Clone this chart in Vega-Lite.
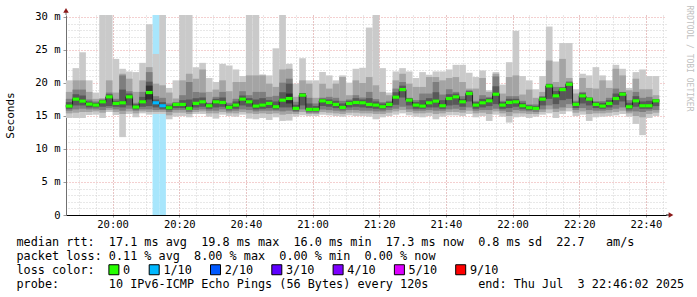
{
  "$schema": "https://vega.github.io/schema/vega-lite/v6.json",
  "width": 600,
  "height": 200,
  "autosize": {"type": "none"},
  "padding": {"left": 66, "top": 15, "right": 31, "bottom": 82},
  "background": "white",
  "config": {"view": {"stroke": null}},
  "resolve": {"axis": {"x": "independent", "y": "independent"}},
  "data": {"values": [
    {"t":"2025-07-03T19:46","p1":14.7,"p2":15.4,"p3":15.8,"p4":16.1,"p5":16.3,"p6":16.7,"p7":17.1,"p8":17.6,"p9":18.65,"p10":20.4,"med":16.5,"loss":"0"},
    {"t":"2025-07-03T19:48","p1":14.7,"p2":15.5,"p3":16.0,"p4":16.6,"p5":17.35,"p6":17.75,"p7":18.3,"p8":19.0,"p9":20.4,"p10":22.25,"med":17.55,"loss":"0"},
    {"t":"2025-07-03T19:50","p1":14.7,"p2":15.6,"p3":16.1,"p4":16.6,"p5":17.05,"p6":17.45,"p7":18.1,"p8":19.0,"p9":20.4,"p10":24.65,"med":17.25,"loss":"0"},
    {"t":"2025-07-03T19:52","p1":15.15,"p2":15.6,"p3":16.0,"p4":16.3,"p5":16.6,"p6":17.0,"p7":17.2,"p8":17.5,"p9":18.65,"p10":20.4,"med":16.8,"loss":"0"},
    {"t":"2025-07-03T19:54","p1":15.2,"p2":15.7,"p3":16.0,"p4":16.3,"p5":16.45,"p6":16.85,"p7":17.0,"p8":17.2,"p9":17.6,"p10":18.55,"med":16.65,"loss":"0"},
    {"t":"2025-07-03T19:56","p1":14.7,"p2":15.5,"p3":15.9,"p4":16.4,"p5":16.95,"p6":17.35,"p7":17.45,"p8":17.5,"p9":17.7,"p10":30.3,"med":17.15,"loss":"0"},
    {"t":"2025-07-03T19:58","p1":15.6,"p2":15.9,"p3":16.2,"p4":16.5,"p5":17.7,"p6":18.1,"p7":18.3,"p8":18.55,"p9":20.4,"p10":30.3,"med":17.9,"loss":"0"},
    {"t":"2025-07-03T20:00","p1":15.15,"p2":15.6,"p3":16.0,"p4":16.4,"p5":16.7,"p6":17.1,"p7":17.3,"p8":17.6,"p9":18.55,"p10":23.65,"med":16.9,"loss":"0"},
    {"t":"2025-07-03T20:02","p1":11.8,"p2":15.3,"p3":15.8,"p4":16.3,"p5":16.8,"p6":17.2,"p7":19.0,"p8":21.15,"p9":21.4,"p10":22.15,"med":17.0,"loss":"0"},
    {"t":"2025-07-03T20:04","p1":15.3,"p2":15.7,"p3":16.1,"p4":16.6,"p5":17.7,"p6":18.1,"p7":18.4,"p8":18.75,"p9":20.65,"p10":21.75,"med":17.9,"loss":"0"},
    {"t":"2025-07-03T20:06","p1":14.8,"p2":15.4,"p3":15.8,"p4":16.0,"p5":16.15,"p6":16.55,"p7":16.8,"p8":17.0,"p9":18.65,"p10":21.65,"med":16.35,"loss":"0"},
    {"t":"2025-07-03T20:08","p1":15.4,"p2":15.7,"p3":16.0,"p4":16.4,"p5":16.95,"p6":17.35,"p7":17.9,"p8":18.65,"p9":20.4,"p10":23.05,"med":17.15,"loss":"0"},
    {"t":"2025-07-03T20:10","p1":15.2,"p2":15.6,"p3":16.0,"p4":16.5,"p5":17.5,"p6":19.6,"p7":20.2,"p8":21.65,"p9":22.4,"p10":28.9,"med":18.55,"loss":"0"},
    {"t":"2025-07-03T20:12","p1":15.3,"p2":15.6,"p3":15.9,"p4":16.3,"p5":16.8,"p6":17.2,"p7":17.5,"p8":18.0,"p9":19.9,"p10":24.4,"med":17.0,"loss":"1/10"},
    {"t":"2025-07-03T20:14","p1":15.3,"p2":15.6,"p3":15.9,"p4":16.1,"p5":16.35,"p6":16.75,"p7":17.1,"p8":17.75,"p9":19.65,"p10":30.3,"med":16.55,"loss":"1/10"},
    {"t":"2025-07-03T20:16","p1":14.5,"p2":15.1,"p3":15.6,"p4":15.9,"p5":16.05,"p6":16.45,"p7":16.6,"p8":16.9,"p9":18.55,"p10":19.25,"med":16.25,"loss":"0"},
    {"t":"2025-07-03T20:18","p1":14.9,"p2":15.5,"p3":15.9,"p4":16.2,"p5":16.55,"p6":16.95,"p7":17.0,"p8":17.1,"p9":17.65,"p10":20.4,"med":16.75,"loss":"0"},
    {"t":"2025-07-03T20:20","p1":15.0,"p2":15.5,"p3":15.9,"p4":16.2,"p5":16.55,"p6":16.95,"p7":17.4,"p8":18.15,"p9":20.4,"p10":30.3,"med":16.75,"loss":"0"},
    {"t":"2025-07-03T20:22","p1":14.8,"p2":15.3,"p3":15.6,"p4":15.9,"p5":15.95,"p6":16.35,"p7":17.5,"p8":20.15,"p9":21.4,"p10":30.3,"med":16.15,"loss":"0"},
    {"t":"2025-07-03T20:24","p1":15.3,"p2":15.6,"p3":15.9,"p4":16.3,"p5":16.7,"p6":17.1,"p7":17.7,"p8":18.65,"p9":20.65,"p10":22.4,"med":16.9,"loss":"0"},
    {"t":"2025-07-03T20:26","p1":15.3,"p2":15.7,"p3":16.0,"p4":16.4,"p5":16.95,"p6":17.35,"p7":17.8,"p8":18.55,"p9":22.05,"p10":23.05,"med":17.15,"loss":"0"},
    {"t":"2025-07-03T20:28","p1":14.9,"p2":15.4,"p3":15.8,"p4":16.1,"p5":16.35,"p6":16.75,"p7":16.9,"p8":17.0,"p9":18.65,"p10":20.75,"med":16.55,"loss":"0"},
    {"t":"2025-07-03T20:30","p1":14.6,"p2":15.4,"p3":15.8,"p4":16.3,"p5":16.95,"p6":17.35,"p7":17.6,"p8":17.9,"p9":19.0,"p10":20.15,"med":17.15,"loss":"0"},
    {"t":"2025-07-03T20:32","p1":15.2,"p2":15.6,"p3":16.0,"p4":16.4,"p5":16.85,"p6":17.25,"p7":17.8,"p8":18.65,"p9":20.4,"p10":22.9,"med":17.05,"loss":"0"},
    {"t":"2025-07-03T20:34","p1":15.0,"p2":15.4,"p3":15.7,"p4":16.0,"p5":16.1,"p6":16.5,"p7":16.7,"p8":17.0,"p9":18.75,"p10":22.65,"med":16.3,"loss":"0"},
    {"t":"2025-07-03T20:36","p1":14.9,"p2":15.4,"p3":15.8,"p4":16.1,"p5":16.45,"p6":16.85,"p7":17.2,"p8":17.6,"p9":20.15,"p10":22.05,"med":16.65,"loss":"0"},
    {"t":"2025-07-03T20:38","p1":15.2,"p2":15.6,"p3":16.0,"p4":16.6,"p5":17.35,"p6":17.75,"p7":18.1,"p8":18.75,"p9":20.15,"p10":21.05,"med":17.55,"loss":"0"},
    {"t":"2025-07-03T20:40","p1":14.6,"p2":15.4,"p3":15.9,"p4":16.4,"p5":16.95,"p6":17.35,"p7":17.7,"p8":18.15,"p9":21.15,"p10":30.3,"med":17.15,"loss":"0"},
    {"t":"2025-07-03T20:42","p1":14.5,"p2":15.3,"p3":15.7,"p4":16.0,"p5":16.3,"p6":16.7,"p7":17.5,"p8":18.65,"p9":21.15,"p10":30.3,"med":16.5,"loss":"0"},
    {"t":"2025-07-03T20:44","p1":14.7,"p2":15.4,"p3":15.8,"p4":16.1,"p5":16.45,"p6":16.85,"p7":17.7,"p8":18.65,"p9":21.15,"p10":21.3,"med":16.65,"loss":"0"},
    {"t":"2025-07-03T20:46","p1":14.4,"p2":15.3,"p3":15.8,"p4":16.2,"p5":16.7,"p6":17.1,"p7":17.4,"p8":17.9,"p9":19.9,"p10":21.15,"med":16.9,"loss":"0"},
    {"t":"2025-07-03T20:48","p1":14.8,"p2":15.4,"p3":15.8,"p4":16.0,"p5":16.2,"p6":16.6,"p7":17.2,"p8":18.05,"p9":19.4,"p10":25.25,"med":16.4,"loss":"0"},
    {"t":"2025-07-03T20:50","p1":14.25,"p2":15.2,"p3":15.7,"p4":16.3,"p5":17.2,"p6":17.6,"p7":18.6,"p8":20.05,"p9":22.05,"p10":30.3,"med":17.4,"loss":"0"},
    {"t":"2025-07-03T20:52","p1":14.3,"p2":15.3,"p3":15.8,"p4":16.3,"p5":16.9,"p6":18.4,"p7":19.9,"p8":20.65,"p9":22.15,"p10":22.9,"med":17.65,"loss":"0"},
    {"t":"2025-07-03T20:54","p1":14.9,"p2":15.3,"p3":15.6,"p4":15.8,"p5":15.95,"p6":16.35,"p7":16.7,"p8":17.15,"p9":17.9,"p10":19.9,"med":16.15,"loss":"0"},
    {"t":"2025-07-03T20:56","p1":15.1,"p2":15.6,"p3":16.0,"p4":16.6,"p5":17.9,"p6":18.4,"p7":18.4,"p8":18.45,"p9":20.4,"p10":23.75,"med":18.15,"loss":"0"},
    {"t":"2025-07-03T20:58","p1":15.0,"p2":15.3,"p3":15.5,"p4":15.7,"p5":15.8,"p6":16.2,"p7":16.9,"p8":17.75,"p9":19.9,"p10":20.4,"med":16.0,"loss":"0"},
    {"t":"2025-07-03T21:00","p1":15.0,"p2":15.3,"p3":15.5,"p4":15.7,"p5":15.8,"p6":16.2,"p7":16.5,"p8":16.9,"p9":17.75,"p10":20.4,"med":16.0,"loss":"0"},
    {"t":"2025-07-03T21:02","p1":15.2,"p2":15.6,"p3":16.0,"p4":16.5,"p5":17.1,"p6":17.5,"p7":17.6,"p8":17.75,"p9":19.9,"p10":21.65,"med":17.3,"loss":"0"},
    {"t":"2025-07-03T21:04","p1":15.1,"p2":15.5,"p3":15.9,"p4":16.4,"p5":16.85,"p6":17.25,"p7":17.5,"p8":17.9,"p9":19.15,"p10":21.15,"med":17.05,"loss":"0"},
    {"t":"2025-07-03T21:06","p1":15.0,"p2":15.4,"p3":15.8,"p4":16.2,"p5":16.55,"p6":16.95,"p7":17.3,"p8":17.75,"p9":19.9,"p10":20.4,"med":16.75,"loss":"0"},
    {"t":"2025-07-03T21:08","p1":14.9,"p2":15.3,"p3":15.7,"p4":16.0,"p5":16.1,"p6":16.5,"p7":16.9,"p8":17.3,"p9":20.9,"p10":21.15,"med":16.3,"loss":"0"},
    {"t":"2025-07-03T21:10","p1":15.1,"p2":15.5,"p3":15.9,"p4":16.3,"p5":16.7,"p6":17.1,"p7":17.3,"p8":17.5,"p9":18.15,"p10":20.05,"med":16.9,"loss":"0"},
    {"t":"2025-07-03T21:12","p1":15.0,"p2":15.5,"p3":15.9,"p4":16.4,"p5":16.85,"p6":17.25,"p7":17.7,"p8":18.15,"p9":20.4,"p10":22.15,"med":17.05,"loss":"0"},
    {"t":"2025-07-03T21:14","p1":15.0,"p2":15.4,"p3":15.8,"p4":16.3,"p5":16.8,"p6":17.2,"p7":17.5,"p8":17.8,"p9":20.0,"p10":22.3,"med":17.0,"loss":"0"},
    {"t":"2025-07-03T21:16","p1":14.9,"p2":15.4,"p3":15.8,"p4":16.2,"p5":16.55,"p6":16.95,"p7":17.7,"p8":18.65,"p9":20.9,"p10":28.4,"med":16.75,"loss":"0"},
    {"t":"2025-07-03T21:18","p1":14.5,"p2":15.3,"p3":15.7,"p4":16.1,"p5":16.45,"p6":16.85,"p7":17.2,"p8":17.55,"p9":19.65,"p10":30.3,"med":16.65,"loss":"0"},
    {"t":"2025-07-03T21:20","p1":14.8,"p2":15.3,"p3":15.7,"p4":16.0,"p5":16.2,"p6":16.6,"p7":16.9,"p8":17.1,"p9":18.65,"p10":22.25,"med":16.4,"loss":"0"},
    {"t":"2025-07-03T21:22","p1":15.0,"p2":15.5,"p3":15.9,"p4":16.3,"p5":16.55,"p6":16.95,"p7":17.1,"p8":17.3,"p9":18.15,"p10":18.55,"med":16.75,"loss":"0"},
    {"t":"2025-07-03T21:24","p1":15.2,"p2":15.7,"p3":16.1,"p4":16.7,"p5":17.65,"p6":18.05,"p7":18.6,"p8":19.15,"p9":20.4,"p10":21.75,"med":17.85,"loss":"0"},
    {"t":"2025-07-03T21:26","p1":15.4,"p2":15.9,"p3":16.4,"p4":17.8,"p5":18.8,"p6":19.2,"p7":19.6,"p8":20.15,"p9":21.4,"p10":22.25,"med":19.0,"loss":"0"},
    {"t":"2025-07-03T21:28","p1":15.1,"p2":15.6,"p3":16.0,"p4":16.6,"p5":17.2,"p6":17.6,"p7":17.7,"p8":17.75,"p9":19.9,"p10":21.75,"med":17.4,"loss":"0"},
    {"t":"2025-07-03T21:30","p1":14.9,"p2":15.4,"p3":15.8,"p4":16.1,"p5":16.45,"p6":16.85,"p7":17.1,"p8":17.4,"p9":19.4,"p10":20.75,"med":16.65,"loss":"0"},
    {"t":"2025-07-03T21:32","p1":14.8,"p2":15.4,"p3":15.8,"p4":16.1,"p5":16.3,"p6":16.7,"p7":17.4,"p8":18.4,"p9":19.4,"p10":21.65,"med":16.5,"loss":"0"},
    {"t":"2025-07-03T21:34","p1":15.0,"p2":15.5,"p3":15.9,"p4":16.3,"p5":16.8,"p6":17.2,"p7":17.7,"p8":18.4,"p9":20.9,"p10":21.25,"med":17.0,"loss":"0"},
    {"t":"2025-07-03T21:36","p1":14.5,"p2":15.3,"p3":15.8,"p4":16.3,"p5":17.05,"p6":17.45,"p7":18.6,"p8":20.15,"p9":20.9,"p10":21.75,"med":17.25,"loss":"0"},
    {"t":"2025-07-03T21:38","p1":14.9,"p2":15.4,"p3":15.8,"p4":16.1,"p5":16.35,"p6":16.75,"p7":17.4,"p8":18.25,"p9":20.4,"p10":21.75,"med":16.55,"loss":"0"},
    {"t":"2025-07-03T21:40","p1":15.1,"p2":15.6,"p3":16.0,"p4":16.6,"p5":17.45,"p6":17.85,"p7":18.3,"p8":19.05,"p9":20.75,"p10":22.05,"med":17.65,"loss":"0"},
    {"t":"2025-07-03T21:42","p1":15.1,"p2":15.6,"p3":16.1,"p4":16.7,"p5":17.7,"p6":18.1,"p7":18.4,"p8":18.65,"p9":20.9,"p10":22.75,"med":17.9,"loss":"0"},
    {"t":"2025-07-03T21:44","p1":15.0,"p2":15.5,"p3":15.9,"p4":16.4,"p5":16.95,"p6":17.35,"p7":17.6,"p8":18.0,"p9":20.15,"p10":22.75,"med":17.15,"loss":"0"},
    {"t":"2025-07-03T21:46","p1":15.3,"p2":15.8,"p3":16.3,"p4":17.2,"p5":18.2,"p6":18.6,"p7":18.75,"p8":18.9,"p9":19.15,"p10":21.55,"med":18.4,"loss":"0"},
    {"t":"2025-07-03T21:48","p1":14.8,"p2":15.4,"p3":15.8,"p4":16.1,"p5":16.45,"p6":16.85,"p7":17.1,"p8":17.3,"p9":19.15,"p10":20.9,"med":16.65,"loss":"0"},
    {"t":"2025-07-03T21:50","p1":15.0,"p2":15.5,"p3":15.9,"p4":16.3,"p5":16.8,"p6":17.2,"p7":17.6,"p8":18.15,"p9":20.75,"p10":21.9,"med":17.0,"loss":"0"},
    {"t":"2025-07-03T21:52","p1":14.25,"p2":15.3,"p3":15.9,"p4":16.5,"p5":17.1,"p6":17.5,"p7":17.7,"p8":17.9,"p9":18.65,"p10":18.9,"med":17.3,"loss":"0"},
    {"t":"2025-07-03T21:54","p1":15.2,"p2":15.7,"p3":16.1,"p4":16.8,"p5":18.1,"p6":18.5,"p7":19.5,"p8":21.0,"p9":21.4,"p10":21.65,"med":18.3,"loss":"0"},
    {"t":"2025-07-03T21:56","p1":14.9,"p2":15.4,"p3":15.8,"p4":16.1,"p5":16.45,"p6":16.85,"p7":17.1,"p8":17.3,"p9":18.4,"p10":19.75,"med":16.65,"loss":"0"},
    {"t":"2025-07-03T21:58","p1":14.0,"p2":15.0,"p3":15.6,"p4":16.2,"p5":16.85,"p6":17.25,"p7":17.6,"p8":18.0,"p9":20.9,"p10":23.15,"med":17.05,"loss":"0"},
    {"t":"2025-07-03T22:00","p1":14.8,"p2":15.4,"p3":15.9,"p4":16.4,"p5":16.95,"p6":17.35,"p7":17.6,"p8":18.0,"p9":21.15,"p10":27.9,"med":17.15,"loss":"0"},
    {"t":"2025-07-03T22:02","p1":14.9,"p2":15.4,"p3":15.8,"p4":16.1,"p5":16.35,"p6":16.75,"p7":17.0,"p8":17.3,"p9":18.25,"p10":21.05,"med":16.55,"loss":"0"},
    {"t":"2025-07-03T22:04","p1":14.7,"p2":15.3,"p3":15.7,"p4":15.9,"p5":16.05,"p6":16.45,"p7":16.6,"p8":16.75,"p9":19.0,"p10":20.4,"med":16.25,"loss":"0"},
    {"t":"2025-07-03T22:06","p1":14.9,"p2":15.3,"p3":15.6,"p4":15.9,"p5":15.95,"p6":16.35,"p7":16.5,"p8":16.75,"p9":17.75,"p10":19.05,"med":16.15,"loss":"0"},
    {"t":"2025-07-03T22:08","p1":15.2,"p2":15.6,"p3":16.0,"p4":16.6,"p5":17.35,"p6":17.75,"p7":17.9,"p8":18.0,"p9":18.65,"p10":21.05,"med":17.55,"loss":"0"},
    {"t":"2025-07-03T22:10","p1":15.4,"p2":16.0,"p3":16.6,"p4":17.6,"p5":19.35,"p6":19.75,"p7":19.8,"p8":19.9,"p9":23.4,"p10":28.55,"med":19.55,"loss":"0"},
    {"t":"2025-07-03T22:12","p1":14.7,"p2":15.6,"p3":16.1,"p4":16.8,"p5":17.85,"p6":18.25,"p7":18.8,"p8":19.4,"p9":20.15,"p10":23.25,"med":18.05,"loss":"0"},
    {"t":"2025-07-03T22:14","p1":15.3,"p2":15.8,"p3":16.3,"p4":17.4,"p5":18.8,"p6":19.2,"p7":19.3,"p8":19.4,"p9":23.65,"p10":26.05,"med":19.0,"loss":"0"},
    {"t":"2025-07-03T22:16","p1":15.7,"p2":16.2,"p3":16.8,"p4":17.6,"p5":19.6,"p6":20.0,"p7":20.1,"p8":20.25,"p9":20.75,"p10":26.05,"med":19.8,"loss":"0"},
    {"t":"2025-07-03T22:18","p1":15.0,"p2":15.5,"p3":15.9,"p4":16.2,"p5":16.55,"p6":16.95,"p7":17.1,"p8":17.3,"p9":18.4,"p10":19.05,"med":16.75,"loss":"0"},
    {"t":"2025-07-03T22:20","p1":15.2,"p2":15.7,"p3":16.2,"p4":16.9,"p5":17.85,"p6":18.25,"p7":18.45,"p8":18.65,"p9":20.75,"p10":21.4,"med":18.05,"loss":"0"},
    {"t":"2025-07-03T22:22","p1":14.25,"p2":15.3,"p3":15.9,"p4":16.6,"p5":17.35,"p6":17.75,"p7":17.75,"p8":17.8,"p9":19.25,"p10":21.15,"med":17.55,"loss":"0"},
    {"t":"2025-07-03T22:24","p1":14.8,"p2":15.4,"p3":15.8,"p4":16.2,"p5":16.55,"p6":16.95,"p7":17.1,"p8":17.25,"p9":19.15,"p10":22.4,"med":16.75,"loss":"0"},
    {"t":"2025-07-03T22:26","p1":14.9,"p2":15.4,"p3":15.8,"p4":16.1,"p5":16.3,"p6":16.7,"p7":17.0,"p8":17.25,"p9":20.4,"p10":21.15,"med":16.5,"loss":"0"},
    {"t":"2025-07-03T22:28","p1":15.0,"p2":15.5,"p3":15.9,"p4":16.3,"p5":16.7,"p6":17.1,"p7":17.4,"p8":17.75,"p9":19.25,"p10":20.4,"med":16.9,"loss":"0"},
    {"t":"2025-07-03T22:30","p1":15.1,"p2":15.6,"p3":16.1,"p4":16.7,"p5":17.45,"p6":17.85,"p7":18.4,"p8":19.15,"p9":22.15,"p10":22.75,"med":17.65,"loss":"0"},
    {"t":"2025-07-03T22:32","p1":15.3,"p2":15.8,"p3":16.3,"p4":17.2,"p5":18.1,"p6":18.5,"p7":18.6,"p8":18.65,"p9":21.15,"p10":22.15,"med":18.3,"loss":"0"},
    {"t":"2025-07-03T22:34","p1":14.9,"p2":15.4,"p3":15.7,"p4":16.0,"p5":16.2,"p6":16.6,"p7":17.0,"p8":17.4,"p9":18.9,"p10":19.25,"med":16.4,"loss":"0"},
    {"t":"2025-07-03T22:36","p1":13.8,"p2":15.0,"p3":15.7,"p4":16.4,"p5":17.1,"p6":17.5,"p7":18.0,"p8":18.65,"p9":20.65,"p10":21.65,"med":17.3,"loss":"0"},
    {"t":"2025-07-03T22:38","p1":12.1,"p2":14.8,"p3":15.6,"p4":16.1,"p5":16.35,"p6":16.75,"p7":17.2,"p8":17.75,"p9":19.05,"p10":22.05,"med":16.55,"loss":"0"},
    {"t":"2025-07-03T22:40","p1":14.7,"p2":15.3,"p3":15.8,"p4":16.1,"p5":16.35,"p6":16.75,"p7":17.3,"p8":17.9,"p9":19.05,"p10":21.05,"med":16.55,"loss":"0"},
    {"t":"2025-07-03T22:42","p1":15.0,"p2":15.5,"p3":15.9,"p4":16.5,"p5":17.1,"p6":17.5,"p7":17.5,"p8":17.55,"p9":18.15,"p10":21.05,"med":17.3,"loss":"0"}
  ]},
  "transform": [{"timeUnit": {"unit": "yearmonthdatehoursminutes", "step": 2}, "field": "t", "as": "t0"}],
  "layer": [
    {
      "transform": [{"filter": "datum.loss !== '0'"}],
      "mark": {"type": "rect", "fill": "#a8e6fc"},
      "encoding": {
        "x": {"field": "t0", "type": "temporal",
          "axis": {"orient": "top", "tickCount": 36, "grid": true, "gridColor": "#d0d0d0", "gridDash": [1, 2], "gridWidth": 1,
                   "labels": false, "ticks": false, "domain": false, "title": null}},
        "x2": {"field": "t0_end"}
      }
    },
    {
      "mark": {"type": "rect", "fill": "#cacaca"},
      "encoding": {
        "x": {"field": "t0", "type": "temporal",
          "scale": {"domain": [{"year": 2025, "month": 7, "date": 3, "hours": 19, "minutes": 46, "seconds": 2}, {"year": 2025, "month": 7, "date": 3, "hours": 22, "minutes": 46, "seconds": 2}], "nice": false},
          "axis": {
            "orient": "bottom",
            "values": [
              {"year": 2025, "month": 7, "date": 3, "hours": 20, "minutes": 0},
              {"year": 2025, "month": 7, "date": 3, "hours": 20, "minutes": 20},
              {"year": 2025, "month": 7, "date": 3, "hours": 20, "minutes": 40},
              {"year": 2025, "month": 7, "date": 3, "hours": 21, "minutes": 0},
              {"year": 2025, "month": 7, "date": 3, "hours": 21, "minutes": 20},
              {"year": 2025, "month": 7, "date": 3, "hours": 21, "minutes": 40},
              {"year": 2025, "month": 7, "date": 3, "hours": 22, "minutes": 0},
              {"year": 2025, "month": 7, "date": 3, "hours": 22, "minutes": 20},
              {"year": 2025, "month": 7, "date": 3, "hours": 22, "minutes": 40}
            ],
            "format": "%H:%M",
            "labelOverlap": false, "labelFlush": false, "labelAngle": 0,
            "labelFont": "DejaVu Sans Mono", "labelFontSize": 10.5, "labelColor": "#000000", "labelPadding": 2,
            "grid": true, "gridColor": "#e8a0a0", "gridDash": [1, 2], "gridWidth": 1,
            "tickSize": 2, "tickColor": "#999999",
            "domainColor": "#000000",
            "title": [
              "median rtt:\u00a0 17.1 ms avg\u00a0 19.8 ms max\u00a0 16.0 ms min\u00a0 17.3 ms now\u00a0 0.8 ms sd\u00a0 22.7\u00a0\u00a0 am/s",
              "packet loss: 0.11 % avg\u00a0 8.00 % max\u00a0 0.00 % min\u00a0 0.00 % now",
              "loss color:",
              "probe:\u00a0\u00a0\u00a0\u00a0\u00a0\u00a0 10 IPv6-ICMP Echo Pings (56 Bytes) every 120s\u00a0\u00a0\u00a0\u00a0\u00a0\u00a0 end: Thu Jul\u00a0 3 22:46:02 2025"
            ],
            "titleFont": "DejaVu Sans Mono", "titleFontSize": 11.8, "titleFontWeight": "normal", "titleColor": "#000000",
            "titleX": -50, "titleY": 30.5, "titleAlign": "left", "titleAnchor": "start", "titleBaseline": "alphabetic",
            "titleLineHeight": 14, "titleLimit": 2000
          }
        },
        "x2": {"field": "t0_end"},
        "y": {"field": "p1", "type": "quantitative",
          "scale": {"domain": [0, 30.3], "nice": false, "zero": true},
          "axis": {
            "orient": "left",
            "values": [0, 5, 10, 15, 20, 25, 30],
            "labelExpr": "datum.value === 0 ? '0' : datum.label + ' m'",
            "labelOverlap": false, "labelFlush": false,
            "labelFont": "DejaVu Sans Mono", "labelFontSize": 10.5, "labelColor": "#000000", "labelPadding": 3,
            "grid": true, "gridColor": "#e8a0a0", "gridDash": [1, 2], "gridWidth": 1,
            "tickSize": 3, "tickColor": "#999999",
            "domainColor": "#707070",
            "title": "Seconds",
            "titleFont": "DejaVu Sans Mono", "titleFontSize": 11, "titleFontWeight": "normal", "titleColor": "#000000",
            "titleX": -56, "titleY": 100, "titleAngle": -90, "titleAlign": "center", "titleBaseline": "middle"
          }
        },
        "y2": {"field": "p10"}
      }
    },
    {
      "mark": {"type": "rect", "fill": "#a4a4a4"},
      "encoding": {
        "x": {"field": "t0", "type": "temporal", "axis": null}, "x2": {"field": "t0_end"},
        "y": {"field": "p2", "type": "quantitative",
          "axis": {
            "orient": "right",
            "values": [1,2,3,4,6,7,8,9,11,12,13,14,16,17,18,19,21,22,23,24,26,27,28,29],
            "grid": true, "gridColor": "#d0d0d0", "gridDash": [1, 2], "gridWidth": 1,
            "labels": false, "ticks": false, "domain": false,
            "title": "RRDTOOL / TOBI OETIKER",
            "titleFont": "DejaVu Sans Mono", "titleFontSize": 8, "titleFontWeight": "normal", "titleColor": "#c0c0c0",
            "titleAngle": 90, "titleX": 22, "titleY": -10, "titleAlign": "left", "titleBaseline": "middle"
          }
        },
        "y2": {"field": "p9"}
      }
    },
    {
      "mark": {"type": "rect", "fill": "#7e7e7e"},
      "encoding": {
        "x": {"field": "t0", "type": "temporal", "axis": null}, "x2": {"field": "t0_end"},
        "y": {"field": "p3", "type": "quantitative", "axis": null}, "y2": {"field": "p8"}
      }
    },
    {
      "mark": {"type": "rect", "fill": "#585858"},
      "encoding": {
        "x": {"field": "t0", "type": "temporal", "axis": null}, "x2": {"field": "t0_end"},
        "y": {"field": "p4", "type": "quantitative", "axis": null}, "y2": {"field": "p7"}
      }
    },
    {
      "mark": {"type": "rect", "fill": "#323232"},
      "encoding": {
        "x": {"field": "t0", "type": "temporal", "axis": null}, "x2": {"field": "t0_end"},
        "y": {"field": "p5", "type": "quantitative", "axis": null}, "y2": {"field": "p6"}
      }
    },
    {
      "mark": {"type": "line", "interpolate": "step-after", "color": "#202020", "strokeWidth": 1},
      "encoding": {
        "x": {"field": "t0", "type": "temporal", "axis": null},
        "y": {"field": "med", "type": "quantitative", "axis": null}
      }
    },
    {
      "mark": {"type": "rect", "yOffset": -1.6, "y2Offset": 1.6},
      "encoding": {
        "x": {"field": "t0", "type": "temporal", "axis": null}, "x2": {"field": "t0_end"},
        "y": {"field": "med", "type": "quantitative", "axis": null}, "y2": {"field": "med"},
        "color": {"field": "loss", "type": "nominal",
          "scale": {"domain": ["0", "1/10", "2/10", "3/10", "4/10", "5/10", "9/10"], "range": ["#26ff00", "#00b8ff", "#0059ff", "#5e00ff", "#7e00ff", "#dd00ff", "#ff0000"]},
          "legend": {
            "orient": "none", "legendX": 42, "legendY": 248.8, "direction": "horizontal",
            "title": null,
            "labelFont": "DejaVu Sans Mono", "labelFontSize": 11.8, "labelColor": "#000000", "labelOffset": 3.3,
            "symbolType": "square", "symbolSize": 100, "symbolStrokeColor": "#000000", "symbolStrokeWidth": 1, "symbolOpacity": 1,
            "columnPadding": 15.3
          }
        }
      }
    },
    {
      "transform": [{"filter": "datum.loss === '1/10' && datum.med > 16.9"}],
      "mark": {"type": "rule", "color": "#707070", "strokeWidth": 1},
      "encoding": {
        "x": {"datum": {"year": 2025, "month": 7, "date": 3, "hours": 19, "minutes": 46, "seconds": 2}, "type": "temporal", "axis": null},
        "y": {"datum": 30.3, "type": "quantitative", "axis": null},
        "y2": {"datum": 31.0}
      }
    },
    {
      "transform": [{"filter": "datum.loss === '1/10' && datum.med > 16.9"}],
      "mark": {"type": "rule", "color": "#000000", "strokeWidth": 1},
      "encoding": {
        "x": {"datum": {"year": 2025, "month": 7, "date": 3, "hours": 22, "minutes": 46, "seconds": 2}, "type": "temporal", "axis": null},
        "x2": {"datum": {"year": 2025, "month": 7, "date": 3, "hours": 22, "minutes": 47, "seconds": 20}},
        "y": {"datum": 0, "type": "quantitative", "axis": null}
      }
    },
    {
      "transform": [{"filter": "datum.loss === '1/10' && datum.med > 16.9"}],
      "mark": {"type": "point", "shape": "triangle-right", "filled": true, "color": "#8b1a1a", "size": 30, "opacity": 1},
      "encoding": {
        "x": {"datum": {"year": 2025, "month": 7, "date": 3, "hours": 22, "minutes": 47, "seconds": 32}, "type": "temporal", "axis": null},
        "y": {"datum": 0, "type": "quantitative", "axis": null}
      }
    },
    {
      "transform": [{"filter": "datum.loss === '1/10' && datum.med > 16.9"}],
      "mark": {"type": "point", "shape": "triangle-up", "filled": true, "color": "#8b1a1a", "size": 30, "opacity": 1},
      "encoding": {
        "x": {"datum": {"year": 2025, "month": 7, "date": 3, "hours": 19, "minutes": 46, "seconds": 2}, "type": "temporal", "axis": null},
        "y": {"datum": 31.0, "type": "quantitative", "axis": null}
      }
    }
  ]
}
